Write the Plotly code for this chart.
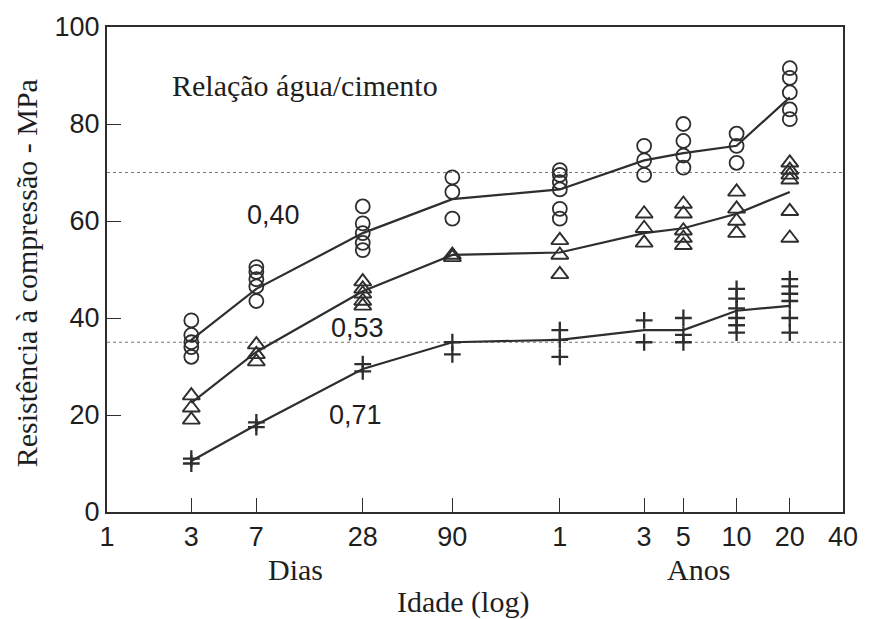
import numpy as np
import plotly.graph_objects as go

# Ages in days (log axis)
ages_days = [3, 7, 28, 90, 365, 1095, 1826, 3652, 7305]
tick_days = [1, 3, 7, 28, 90, 365, 1095, 1826, 3652, 7305, 14610]
tick_text = ["1", "3", "7", "28", "90", "1", "3", "5", "10", "20", "40"]

# w/c = 0.40 (circles)
pts_040 = [
    [39.5, 36.5, 35, 34, 32],
    [50.5, 49.5, 48, 46.5, 43.5],
    [63, 59.5, 57.5, 55.5, 54],
    [69, 66, 60.5],
    [70.5, 69.5, 68, 66.5, 62.5, 60.5],
    [75.5, 72.5, 69.5],
    [80, 76.5, 73.5, 71],
    [78, 75.5, 72],
    [91.5, 89.5, 86.5, 83, 81],
]
line_040 = [35.5, 46, 57.5, 64.5, 66.5, 72.5, 74, 75.5, 85.5]

# w/c = 0.53 (triangles)
pts_053 = [
    [24, 21.5, 19],
    [34.5, 32.5, 31],
    [47.5, 46, 45, 43.5, 42.5],
    [53, 52.5],
    [56, 53, 49],
    [61.5, 58.5, 55.5],
    [63.5, 61.5, 58, 56.5, 55],
    [66, 62.5, 60, 57.5],
    [72, 70.5, 69.5, 68.5, 62, 56.5],
]
line_053 = [22.5, 33, 45.5, 53, 53.5, 57.5, 58.5, 61.5, 66]

# w/c = 0.71 (crosses)
pts_071 = [
    [11, 10],
    [18.5, 17.5],
    [30.5, 29],
    [35, 32.5],
    [37.5, 35.5, 32],
    [39.5, 35],
    [40, 36.5, 35],
    [46, 44, 42, 40, 38.5, 37],
    [48, 46.5, 45, 43.5, 40, 37],
]
line_071 = [10.5, 18, 29.5, 35, 35.5, 37.5, 37.5, 41.5, 42.5]

ref_levels = [70, 35]

INK = "#2e2e2e"
TXT = "#1e1e1e"


def flatten(pts):
    xs, ys = [], []
    for a, vals in zip(ages_days, pts):
        for v in vals:
            xs.append(a)
            ys.append(v)
    return xs, ys


fig = go.Figure()

for lvl in ref_levels:
    fig.add_shape(type="line", xref="paper", x0=0, x1=1, yref="y", y0=lvl, y1=lvl,
                  line=dict(color="#777777", width=1, dash="dot"), layer="below")

series = [
    (pts_040, line_040, "circle-open", 14, 1.8),
    (pts_053, line_053, "triangle-up-open", 15, 1.9),
    (pts_071, line_071, "cross-thin-open", 12, 2.3),
]
for pts, ln, sym, sz, lw in series:
    fig.add_trace(go.Scatter(x=ages_days, y=ln, mode="lines",
                             line=dict(color=INK, width=2.2), showlegend=False,
                             hoverinfo="skip"))
    xs, ys = flatten(pts)
    fig.add_trace(go.Scatter(x=xs, y=ys, mode="markers",
                             marker=dict(symbol=sym, size=sz, color=INK,
                                         line=dict(color=INK, width=lw)),
                             showlegend=False))

sans = "Liberation Sans, Arial, sans-serif"
serif = "Liberation Serif, Times New Roman, serif"
SANS_SZ = 27
SERIF_SZ = 30

fig.update_xaxes(type="log", range=[0, np.log10(14610)], tickvals=tick_days,
                 ticktext=tick_text, ticks="inside", ticklen=14, tickwidth=1,
                 tickcolor=INK, showline=True, linecolor=INK, linewidth=2,
                 mirror=True, showgrid=False, zeroline=False,
                 tickfont=dict(family=sans, size=SANS_SZ, color=TXT))
fig.update_yaxes(range=[0, 100], tickvals=[0, 20, 40, 60, 80, 100],
                 ticks="inside", ticklen=14, tickwidth=1, tickcolor=INK,
                 showline=True, linecolor=INK, linewidth=2, mirror=True,
                 showgrid=False, zeroline=False,
                 tickfont=dict(family=sans, size=SANS_SZ, color=TXT))

ann = [
    dict(text="Relação água/cimento", x=(307 - 107) / 744, y=88, xref="paper", yref="y",
         font=dict(family=serif, size=SERIF_SZ, color=TXT)),
    dict(text="0,40", x=(275 - 107) / 744, y=61.2, xref="paper", yref="y",
         font=dict(family=sans, size=SANS_SZ, color=TXT)),
    dict(text="0,53", x=(360 - 107) / 744, y=38, xref="paper", yref="y",
         font=dict(family=sans, size=SANS_SZ, color=TXT)),
    dict(text="0,71", x=(358 - 107) / 744, y=20.1, xref="paper", yref="y",
         font=dict(family=sans, size=SANS_SZ, color=TXT)),
    dict(text="Dias", x=(298 - 107) / 744, y=-(570 - 512) / 488, xref="paper", yref="paper",
         font=dict(family=serif, size=SERIF_SZ, color=TXT)),
    dict(text="Anos", x=(705 - 107) / 744, y=-(570 - 512) / 488, xref="paper", yref="paper",
         font=dict(family=serif, size=SERIF_SZ, color=TXT)),
    dict(text="Idade (log)", x=(467 - 107) / 744, y=-(603 - 512) / 488, xref="paper", yref="paper",
         font=dict(family=serif, size=SERIF_SZ, color=TXT)),
    dict(text="Resistência à compressão - MPa", x=(26 - 107) / 744, y=(512 - 272) / 488,
         xref="paper", yref="paper", textangle=-90,
         font=dict(family=serif, size=SERIF_SZ, color=TXT)),
]
for a in ann:
    a.update(showarrow=False, xanchor="center", yanchor="middle")
    fig.add_annotation(**a)

fig.update_layout(width=870, height=619, margin=dict(l=107, r=19, t=24, b=107),
                  paper_bgcolor="white", plot_bgcolor="white")

fig.write_html("out.html")
